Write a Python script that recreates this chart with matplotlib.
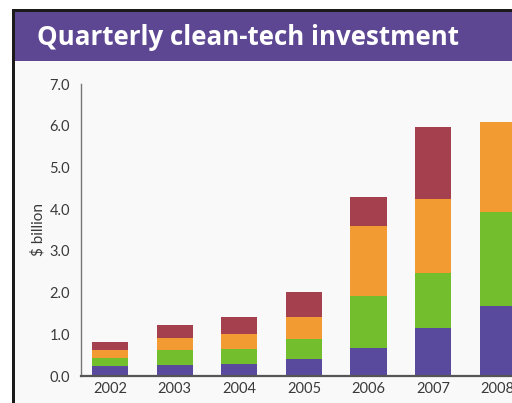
import matplotlib
matplotlib.use('Agg')
import numpy as np
import matplotlib.pyplot as plt
from matplotlib.patches import Rectangle

plt.rcParams.update({'font.family': ['Lato', 'DejaVu Sans'], 'font.size': 9})

# quarterly investment, $ billion (2008: three quarters only)
years = ['2002', '2003', '2004', '2005', '2006', '2007', '2008']
q1 = [0.24, 0.27, 0.29, 0.41, 0.67, 1.15, 1.69]
q2 = [0.20, 0.35, 0.36, 0.48, 1.24, 1.31, 2.24]
q3 = [0.18, 0.30, 0.36, 0.53, 1.69, 1.79, 2.17]
q4 = [0.19, 0.30, 0.41, 0.60, 0.69, 1.72, 0.0]
yticks = [0.0, 1.0, 2.0, 3.0, 4.0, 5.0, 6.0, 7.0]

PURPLE = '#5a4a9e'
GREEN = '#72be2c'
ORANGE = '#f39b33'
RED = '#a5404e'
BAND = '#5d4793'
INK = '#3a3a3a'
BG = '#f9f9f9'

fig = plt.figure(figsize=(5.12, 4.03), dpi=100)
fig.patch.set_facecolor('white')

# page frame: black border, purple title band, chart body
fig.add_artist(Rectangle((12 / 512, 0), 1, 1 - 9 / 403, transform=fig.transFigure,
                         facecolor=BG, edgecolor='none', zorder=0))
fig.add_artist(Rectangle((12 / 512, 1 - 12 / 403), 1, 3 / 403, transform=fig.transFigure,
                         facecolor='#1a1a1a', edgecolor='none', zorder=1))
fig.add_artist(Rectangle((12 / 512, 0), 3 / 512, 1 - 9 / 403, transform=fig.transFigure,
                         facecolor='#1a1a1a', edgecolor='none', zorder=1))
fig.add_artist(Rectangle((15 / 512, 1 - 61 / 403), 1, 49 / 403, transform=fig.transFigure,
                         facecolor=BAND, edgecolor='none', zorder=1))
fig.text(37 / 512, 1 - 45 / 403, 'Quarterly clean-tech investment', color='white',
         fontsize=18.6, fontweight='bold', family='Open Sans', ha='left', va='baseline', zorder=2)

ax = fig.add_axes([81 / 512, 27 / 403, 431 / 512, 292 / 403])
ax.set_facecolor('none')
x = np.arange(len(years))
w = 0.56
b1 = np.array(q1)
b2 = b1 + np.array(q2)
b3 = b2 + np.array(q3)
ax.bar(x, q1, w, color=PURPLE, zorder=2)
ax.bar(x, q2, w, bottom=b1, color=GREEN, zorder=2)
ax.bar(x, q3, w, bottom=b2, color=ORANGE, zorder=2)
ax.bar(x, q4, w, bottom=b3, color=RED, zorder=2)

ax.set_xlim(-0.45, 6.22)
ax.set_ylim(0, 7.0)
ax.set_yticks(yticks)
ax.set_yticklabels([f'{v:.1f}' for v in yticks])
ax.set_xticks(x)
ax.set_xticklabels(years)
ax.tick_params(axis='both', length=0, labelsize=10.5, colors=INK)
ax.tick_params(axis='y', pad=8)
ax.tick_params(axis='x', pad=4)
for s in ['top', 'right']:
    ax.spines[s].set_visible(False)
ax.spines['left'].set_color('#777777')
ax.spines['left'].set_linewidth(1.0)
ax.spines['bottom'].set_color('#555555')
ax.spines['bottom'].set_linewidth(1.6)
ax.set_ylabel('$ billion', fontsize=11, color=INK, labelpad=3)

plt.savefig('out.png', dpi=100)
